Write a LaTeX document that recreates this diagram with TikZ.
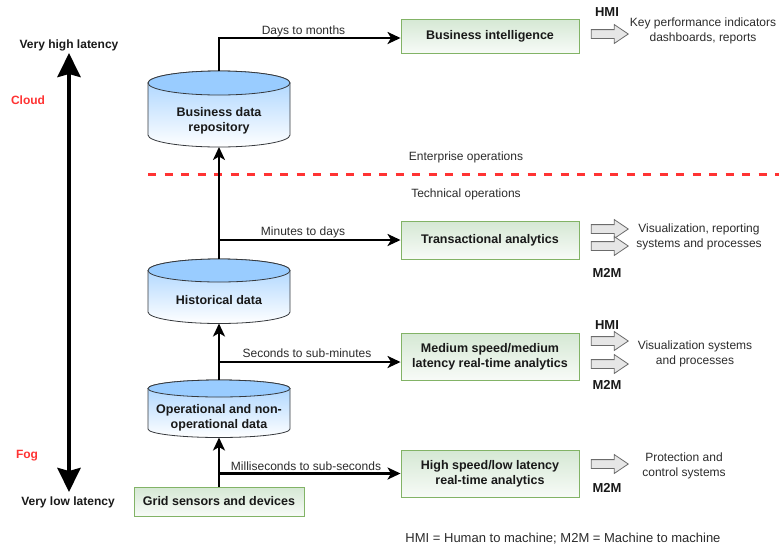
\documentclass[tikz,border=0pt]{standalone}
\usepackage{fontspec}
\setmainfont{Liberation Sans}
\usetikzlibrary{arrows.meta,shapes.arrows}

\definecolor{cylblue}{HTML}{99CCFF}
\definecolor{cyledge}{HTML}{36393D}
\definecolor{boxgreen}{HTML}{D5E8D4}
\definecolor{boxedge}{HTML}{82B366}
\definecolor{zonered}{HTML}{FF3333}
\definecolor{txtgray}{HTML}{2B2B2B}
\definecolor{blockfill}{HTML}{E6E6E6}
\definecolor{blockedge}{HTML}{6B6B6B}

% data store drawn as a cylinder: centre x, top-ellipse y, bottom-ellipse y, x radius, y radius
\newcommand{\datastore}[5]{%
  \shade[top color=cylblue!90, bottom color=white, draw=cyledge, line width=0.8pt]
    (#1-#4,#2) -- (#1-#4,#3)
    arc[start angle=180, end angle=360, x radius=#4, y radius=#5]
    -- (#1+#4,#2)
    arc[start angle=0, end angle=180, x radius=#4, y radius=#5] -- cycle;
  \filldraw[fill=cylblue, draw=cyledge, line width=0.8pt]
    (#1,#2) ellipse[x radius=#4, y radius=#5];
}

\tikzset{
  stagebox/.style={draw=boxedge, line width=0.9pt, top color=boxgreen,
    bottom color=boxgreen!18, minimum width=178pt, align=center, inner sep=0pt,
    font=\fontsize{12.5}{15}\selectfont\bfseries, text=black!90},
  storetext/.style={align=center, font=\fontsize{12.5}{15}\selectfont\bfseries,
    text=black!90, inner sep=0pt},
  conn/.style={line width=2.6pt, draw=black,
    -{Stealth[length=13pt,width=12pt,inset=3.5pt]}},
  flowlabel/.style={font=\fontsize{12}{14}\selectfont, text=txtgray, inner sep=0pt},
  outtext/.style={font=\fontsize{12}{15}\selectfont, text=txtgray, align=center, inner sep=0pt},
  chan/.style={font=\fontsize{13}{15}\selectfont\bfseries, text=black!90, inner sep=0pt},
  flowarrow/.style={shape=single arrow, draw=blockedge, fill=blockfill, line width=0.8pt,
    minimum height=37pt, inner sep=4pt, single arrow head extend=5pt,
    single arrow tip angle=68, single arrow head indent=0pt},
  tier/.style={font=\fontsize{12}{14}\selectfont\bfseries, text=zonered, inner sep=0pt},
  extreme/.style={font=\fontsize{12}{14}\selectfont\bfseries, text=black!90, inner sep=0pt},
}

\begin{document}
\begin{tikzpicture}[x=1pt, y=1pt]
\useasboundingbox (0,0) rectangle (779,-550);

% latency scale
\coordinate (lat-top) at (69,-53);
\coordinate (lat-bot) at (69,-492);
\draw[line width=4.2pt, {Stealth[length=24pt,width=23pt,inset=3pt]}-{Stealth[length=24pt,width=23pt,inset=3pt]}]
  (lat-top) -- (lat-bot);
\node[extreme] (hilat) at (69,-45) {Very high latency};
\node[extreme] (lolat) at (68,-502) {Very low latency};
\node[tier] (cloud) at (28,-100) {Cloud};
\node[tier] (fog) at (27,-456) {Fog};

% data stores
\datastore{219}{-83}{-135}{71}{12}
\coordinate (bdr-top) at (219,-71);
\coordinate (bdr-bot) at (219,-147);
\node[storetext] (bdr) at (219,-120.5) {Business data\\repository};

\datastore{219}{-270.5}{-312}{71}{11.5}
\coordinate (hist-top) at (219,-259);
\coordinate (hist-bot) at (219,-323.5);
\node[storetext] (hist) at (219,-300) {Historical data};

\datastore{219}{-388.5}{-429}{71}{8.5}
\coordinate (ops-top) at (219,-380);
\coordinate (ops-bot) at (219,-437.5);
\node[storetext] (ops) at (219,-417.5) {Operational and non-\\operational data};

% sources and analytics stages
\node[stagebox, minimum width=170pt, minimum height=29pt] (grid) at (219,-501.5) {Grid sensors and devices};
\node[stagebox, minimum height=34pt] (bi) at (490,-36) {Business intelligence};
\node[stagebox, minimum height=38pt] (ta) at (490,-240) {Transactional analytics};
\node[stagebox, minimum height=47pt] (md) at (490,-356.5) {Medium speed/medium\\latency real-time analytics};
\node[stagebox, minimum height=47pt] (hs) at (490,-473.5) {High speed/low latency\\real-time analytics};

% enterprise / technical boundary
\coordinate (zone-l) at (148,-174);
\coordinate (zone-r) at (779,-174);
\draw[zonered, line width=3pt, dash pattern=on 8pt off 8.5pt] (zone-l) -- (zone-r);
\node[outtext] (ent) at (466,-157) {Enterprise operations};
\node[outtext] (tech) at (466,-194) {Technical operations};

% data flows
\draw[conn] (grid.north) -- (ops-bot);
\draw[conn] (grid.north |- hs.west) -- (hs.west);
\draw[conn] (ops-top) -- (hist-bot);
\draw[conn] ([yshift=-5.5pt]md.west -| ops-top) -- ([yshift=-5.5pt]md.west);
\draw[conn] (hist-top) -- (bdr-bot);
\draw[conn] (ta.west -| hist-top) -- (ta.west);
\draw[conn] (bdr-top) |- ([yshift=-2pt]bi.west);

\node[flowlabel] (l-ms) at (306,-466) {Milliseconds to sub-seconds};
\node[flowlabel] (l-sec) at (307,-353) {Seconds to sub-minutes};
\node[flowlabel] (l-min) at (303,-232) {Minutes to days};
\node[flowlabel] (l-day) at (303.5,-31) {Days to months};

% outputs
\node[flowarrow] (o-bi) at (606.5,-34) {};
\node[chan] (c-bi) at (607,-12) {HMI};
\node[outtext] (t-bi) at (703,-30.5) {Key performance indicators\\dashboards, reports};

\node[flowarrow] (o-ta1) at (606.5,-229) {};
\node[flowarrow] (o-ta2) at (606.5,-246) {};
\node[chan] (c-ta) at (607,-273) {M2M};
\node[outtext] (t-ta) at (699,-236.5) {Visualization, reporting\\systems and processes};

\node[flowarrow] (o-md1) at (606.5,-341) {};
\node[flowarrow] (o-md2) at (606.5,-364) {};
\node[chan] (c-md1) at (607,-325) {HMI};
\node[chan] (c-md2) at (607,-385) {M2M};
\node[outtext] (t-md) at (695,-353.5) {Visualization systems\\and processes};

\node[flowarrow] (o-hs) at (606.5,-464) {};
\node[chan] (c-hs) at (607,-488) {M2M};
\node[outtext] (t-hs) at (684,-465.5) {Protection and\\control systems};

\node[font=\fontsize{13}{15}\selectfont, text=txtgray, inner sep=0pt] (legend) at (563,-539)
  {HMI = Human to machine; M2M = Machine to machine};
\end{tikzpicture}
\end{document}
